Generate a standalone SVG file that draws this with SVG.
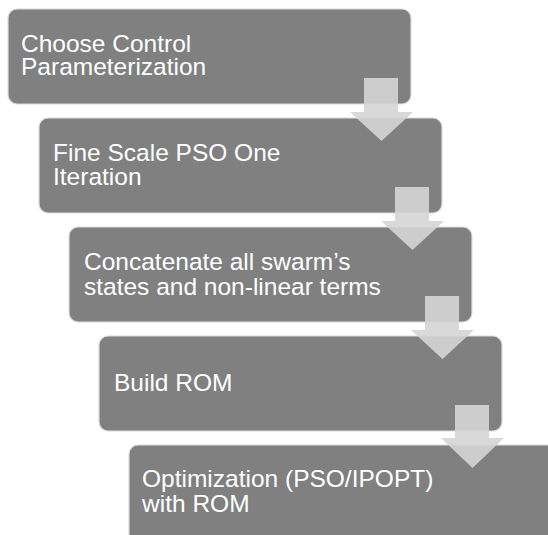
<svg xmlns="http://www.w3.org/2000/svg" width="548" height="535" viewBox="0 0 548 535">
  <style>
    .step { fill: #808080; stroke: #dcdcdc; stroke-width: 1.2; }
    .label { fill: #ffffff; font-family: "Liberation Sans", Arial, sans-serif; font-size: 24.5px; }
    .flow { fill: #d5d5d5; fill-opacity: 0.9; }
  </style>
  <rect width="548" height="535" fill="#ffffff"/>

  <g id="step1">
    <rect class="step" x="8" y="9" width="403" height="95" rx="9"/>
    <text class="label" x="21" y="52">Choose Control</text>
    <text class="label" x="21" y="75">Parameterization</text>
  </g>
  <g id="step2">
    <rect class="step" x="39" y="118" width="403" height="95" rx="9"/>
    <text class="label" x="53" y="161">Fine Scale PSO One</text>
    <text class="label" x="53" y="185">Iteration</text>
  </g>
  <g id="step3">
    <rect class="step" x="69" y="227" width="403" height="95" rx="9"/>
    <text class="label" x="84" y="270">Concatenate all swarm’s</text>
    <text class="label" x="84" y="295">states and non-linear terms</text>
  </g>
  <g id="step4">
    <rect class="step" x="99" y="336" width="403" height="95" rx="9"/>
    <text class="label" x="114" y="391">Build ROM</text>
  </g>
  <g id="step5">
    <rect class="step" x="129" y="445" width="440" height="110" rx="9"/>
    <text class="label" x="142" y="487">Optimization (PSO/IPOPT)</text>
    <text class="label" x="142" y="512">with ROM</text>
  </g>

  <!-- block arrows between consecutive steps -->
  <g id="connectors">
    <path class="flow" d="M364 78 H398 V112 H413 L381.5 141 L350 112 H364 Z"/>
    <path class="flow" d="M395 187 H429 V221 H444 L412.5 250 L381 221 H395 Z"/>
    <path class="flow" d="M425 296 H459 V330 H474 L442.5 359 L411 330 H425 Z"/>
    <path class="flow" d="M455 405 H489 V438 H504 L472.5 468 L441 438 H455 Z"/>
  </g>
</svg>
